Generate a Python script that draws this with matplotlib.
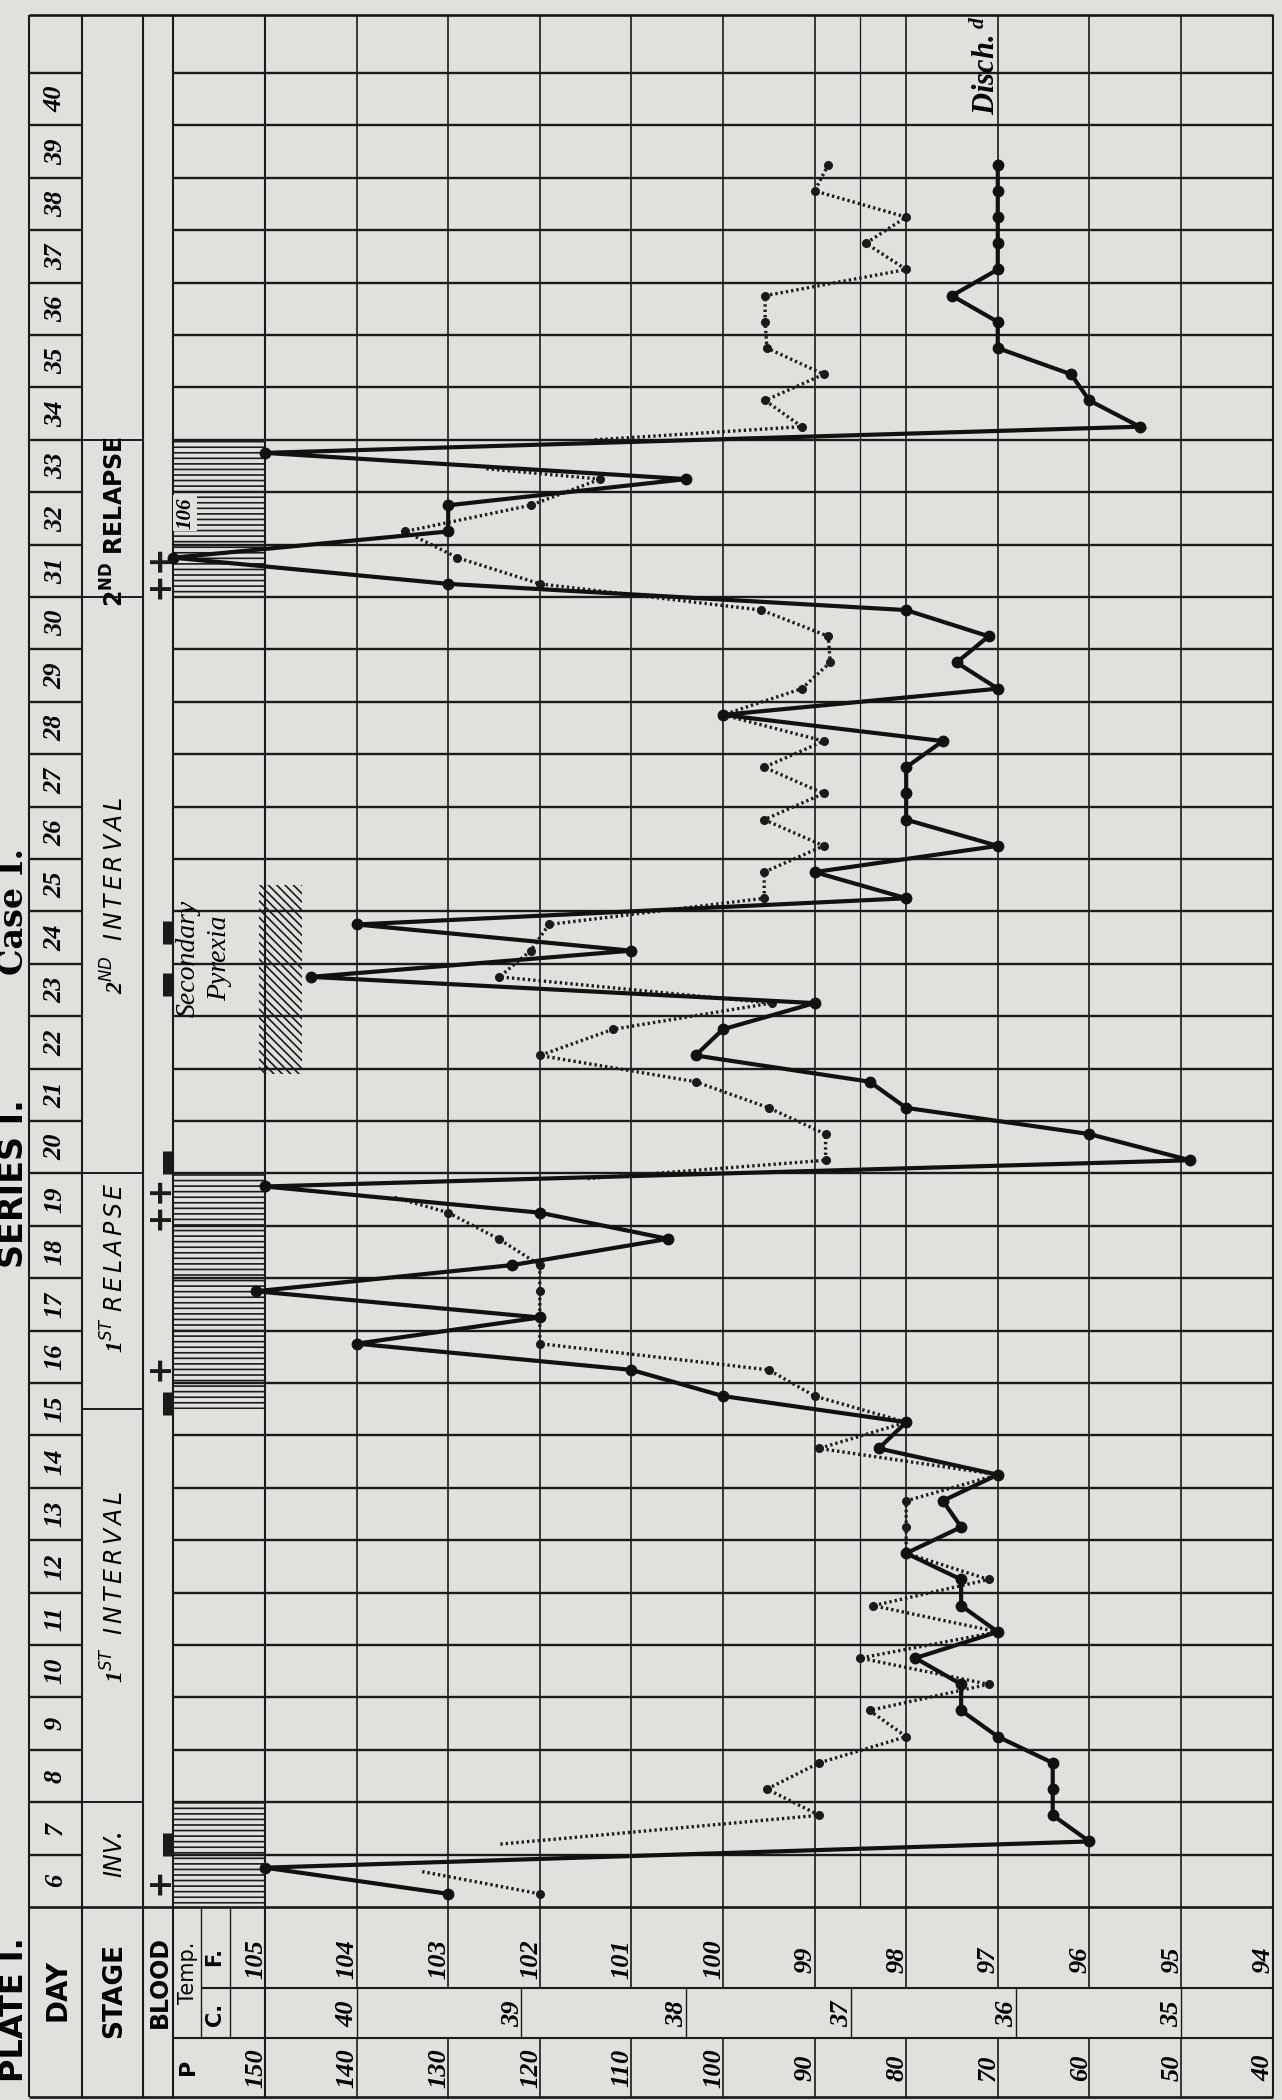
import numpy as np
import matplotlib.pyplot as plt
from matplotlib.patches import Rectangle

plt.rcParams['font.family'] = ['DejaVu Sans']
plt.rcParams['mathtext.fontset'] = 'custom'
plt.rcParams['mathtext.it'] = 'DejaVu Sans:italic'
plt.rcParams['mathtext.sf'] = 'DejaVu Sans:bold'
plt.rcParams['mathtext.rm'] = 'Liberation Serif:italic:bold'
plt.rcParams['hatch.linewidth'] = 1.2

INK = '#1a1a1a'
PAPER = '#e0e0dc'

# ---- values (chart is printed on its side) ----
days = list(range(6, 41))
reading_times = np.arange(6.25, 39.3, 0.5)      # morning / evening readings

temp_f = [103.0, 105.0, 96.0, 96.4, 96.4, 96.4, 97.0, 97.4, 97.4, 97.9,
          97.0, 97.4, 97.4, 98.0, 97.4, 97.6, 97.0, 98.3, 98.0, 100.0,
          101.0, 104.0, 102.0, 105.1, 102.3, 100.6, 102.0, 105.0, 94.9, 96.0,
          98.0, 98.4, 100.3, 100.0, 99.0, 104.5, 101.0, 104.0, 98.0, 99.0,
          97.0, 98.0, 98.0, 98.0, 97.6, 100.0, 97.0, 97.45, 97.1, 98.0,
          103.0, 106.0, 103.0, 103.0, 100.4, 105.0, 95.45, 96.0, 96.2, 97.0,
          97.0, 97.5, 97.0, 97.0, 97.0, 97.0, 97.0]

pulse = [120, np.nan, np.nan, 89.5, 95.2, 89.5, 80, 84, 71, 85,
         70, 83.6, 71, 80, 80, 80, 70, 89.5, 80, 90,
         95, 120, 120, 120, 120, 124.5, 130, np.nan, 88.8, 88.8,
         95, 103, 120, 112, 94.7, 124.4, 121, 119, 95.5, 95.5,
         89, 95.5, 89, 95.5, 89, 100, 91.4, 88.3, 88.5, 95.8,
         120, 129, 134.7, 121, 113.4, np.nan, 91.4, 95.4, 89, 95.2,
         95.4, 95.4, 80, 84.4, 80, 90, 88.5]

# dotted pulse strokes that run off towards unplotted (off-scale) readings
pulse_stubs = [((6.25, 120), (6.68, 133)),
               ((7.2, 124.3), (7.75, 89.5)),
               ((19.25, 130), (19.55, 136)),
               ((19.9, 114.8), (20.25, 88.8)),
               ((33.25, 113.4), (33.45, 126)),
               ((34.0, 114), (34.25, 91.4))]

fahrenheit_ticks = [105, 104, 103, 102, 101, 100, 99, 98, 97, 96, 95, 94]
celsius_ticks = [40, 39, 38, 37, 36, 35]
pulse_ticks = [150, 140, 130, 120, 110, 100, 90, 80, 70, 60, 50, 40]
normal_temp = 98.5

stage_names = [r"$\mathit{INV.}$",
               r"$\mathit{1^{ST}\ \ I\,N\,T\,E\,R\,V\,A\,L}$",
               r"$\mathit{1^{ST}\ R\,E\,L\,A\,P\,S\,E}$",
               r"$\mathit{2^{ND}\ \ I\,N\,T\,E\,R\,V\,A\,L}$",
               r"$\mathsf{2^{ND}\ RELAPSE}$"]
stage_bounds = [6.0, 8.0, 15.5, 20.0, 31.0, 34.0]
stage_label_days = [7.0, 12.1, 18.2, 25.3, 32.45]

pyrexia_bands = [(6.0, 8.0), (15.5, 20.0), (31.0, 34.0)]
secondary_pyrexia = (21.9, 25.5)

blood_times = [6.5, 7.2, 15.6, 16.3, 19.45, 20.2, 23.6, 24.6, 31.5]
blood_signs = ['+', '-', '-', '+', '++', '-', '-', '-', '++']

# ---- layout of the printed form (x in deg F, y in days) ----
X_LEFT, X_RIGHT = 107.893, 93.897
Y_BOTTOM, Y_TOP = 2.316, 42.393
TABLE_LEFT, DAY_STAGE, STAGE_BLOOD, BLOOD_EDGE = 107.58, 107.0, 106.33, 106.0
TEMP_SPLIT, CF_SPLIT, TABLE_RIGHT = 105.7, 105.38, 94.0
TABLE_TOP, HEAD_TOP, FC_LINE, CP_LINE, TABLE_BOTTOM = 42.1, 6.0, 4.45, 3.5, 2.37


def pulse_x(p):
    # pulse scale printed alongside: 150 on the 105 line, 10 beats per degree
    return 90 + np.asarray(p, dtype=float) / 10


fig = plt.figure(figsize=(12.82, 21.0), dpi=100, facecolor=PAPER)
ax = fig.add_axes([0, 0, 1, 1])
ax.set_facecolor(PAPER)
ax.set_xlim(X_LEFT, X_RIGHT)
ax.set_ylim(Y_BOTTOM, Y_TOP)
ax.axis('off')

# grid of the form
row_lines = np.arange(6, 42)
ax.hlines(row_lines[1:], TABLE_LEFT, DAY_STAGE, color=INK, lw=1.7, zorder=1)
ax.hlines(row_lines[1:], BLOOD_EDGE, TABLE_RIGHT, color=INK, lw=1.7, zorder=1)
ax.hlines([HEAD_TOP, TABLE_TOP, TABLE_BOTTOM], TABLE_LEFT, TABLE_RIGHT,
          color=INK, lw=1.9, zorder=1)
ax.hlines(FC_LINE, TEMP_SPLIT, TABLE_RIGHT, color=INK, lw=1.5, zorder=1)
ax.hlines(CP_LINE, BLOOD_EDGE, TABLE_RIGHT, color=INK, lw=1.5, zorder=1)
ax.hlines(stage_bounds[1:], DAY_STAGE, STAGE_BLOOD, color=INK, lw=1.4, zorder=1)

ax.vlines([TABLE_LEFT, DAY_STAGE, STAGE_BLOOD, BLOOD_EDGE, 105, TABLE_RIGHT],
          TABLE_BOTTOM, TABLE_TOP, color=INK, lw=1.5, zorder=1)
ax.vlines(fahrenheit_ticks[1:-1], FC_LINE, TABLE_TOP, color=INK, lw=1.2, zorder=1)
ax.vlines(fahrenheit_ticks[1:-1], TABLE_BOTTOM, CP_LINE, color=INK, lw=1.2, zorder=1)
ax.vlines(normal_temp, HEAD_TOP, TABLE_TOP, color=INK, lw=0.9, zorder=1)
celsius_as_f = [c * 1.8 + 32 for c in celsius_ticks]
ax.vlines(celsius_as_f, CP_LINE, FC_LINE, color=INK, lw=1.0, zorder=1)
ax.vlines([TEMP_SPLIT, CF_SPLIT], CP_LINE, HEAD_TOP, color=INK, lw=1.0, zorder=1)

# hatched pyrexia columns (above 105)
for lo, hi in pyrexia_bands:
    ax.add_patch(Rectangle((BLOOD_EDGE, lo), 105 - BLOOD_EDGE, hi - lo, fill=False,
                           hatch='---', edgecolor=INK, lw=0, zorder=2))
ax.add_patch(Rectangle((105.07, secondary_pyrexia[0]), -0.47,
                       secondary_pyrexia[1] - secondary_pyrexia[0], fill=False,
                       hatch='\\\\\\\\', edgecolor=INK, lw=0, zorder=2))

# header texts
rot = dict(rotation=90, rotation_mode='anchor')
ax.text(107.27, 4.42, 'DAY', fontsize=20, fontweight='bold', ha='center', va='center', **rot)
ax.text(106.65, 4.40, 'STAGE', fontsize=19, fontweight='bold', ha='center', va='center', **rot)
ax.text(106.15, 4.57, 'BLOOD', fontsize=17, fontweight='bold', ha='center', va='center', **rot)
ax.text(105.84, 4.75, 'Temp.', fontsize=15, ha='center', va='center', **rot)
ax.text(105.55, 5.05, 'F.', fontsize=15, fontweight='bold', ha='center', va='center', **rot)
ax.text(105.55, 3.95, 'C.', fontsize=15, fontweight='bold', ha='center', va='center', **rot)
ax.text(105.84, 2.95, 'P', fontsize=16, fontweight='bold', ha='center', va='center', **rot)

num_font = dict(family='Liberation Serif', style='italic', fontweight='bold', fontsize=19)
for f in fahrenheit_ticks:
    ax.text(f + 0.03, 5.0, str(f), ha='center', va='baseline', **rot, **num_font)
for c, fx in zip(celsius_ticks, celsius_as_f):
    ax.text(fx + 0.03, 3.97, str(c), ha='center', va='baseline', **rot, **num_font)
for p in pulse_ticks:
    ax.text(pulse_x(p) + 0.03, 2.93, str(p), ha='center', va='baseline', **rot, **num_font)

for d in days:
    ax.text(107.29, d + 0.5, str(d), family='Liberation Serif', style='italic',
            fontweight='bold', fontsize=19, ha='center', va='center', **rot)

for name, pos in zip(stage_names, stage_label_days):
    ax.text(106.64, pos, name, fontsize=17, ha='center', va='center', **rot)

# blood: spirillum present (+) / absent (-)
for t, s in zip(blood_times, blood_signs):
    if s == '-':
        ax.plot([106.07, 106.07], [t - 0.22, t + 0.22], color=INK, lw=6.5,
                solid_capstyle='butt', zorder=4)
    else:
        ax.text(106.16, t, s, fontsize=24, fontweight='bold', ha='center',
                va='center', color=INK, zorder=4, **rot)

# annotations
serif_it = dict(family='Liberation Serif', style='italic')
ax.text(105.84, 24.1, 'Secondary', fontsize=20, ha='center', va='center', **serif_it, **rot)
ax.text(105.49, 24.1, 'Pyrexia', fontsize=20, ha='center', va='center', **serif_it, **rot)
ax.text(105.87, 32.6, '106', fontsize=15, fontweight='bold', ha='center', va='center',
        zorder=3, bbox=dict(boxstyle='square,pad=0.1', fc=PAPER, ec='none'),
        **serif_it, **rot)
ax.text(97.03, 40.2, r'$\mathrm{Disch.^{d}}$', fontsize=22, ha='left', va='baseline', **rot)

ax.text(107.64, 4.05, 'PLATE I.', fontsize=23, fontweight='bold', ha='center',
        va='baseline', **rot)
ax.text(107.64, 19.8, 'SERIES I.', fontsize=24, fontweight='bold', ha='center',
        va='baseline', **rot)
ax.text(107.64, 25.0, 'Case I.', fontsize=24, fontweight='bold', family='DejaVu Serif',
        ha='center', va='baseline', **rot)

# pulse (dotted) and temperature (solid)
dots = (0, (0.7, 0.9))
for (t0, p0), (t1, p1) in pulse_stubs:
    ax.plot(pulse_x([p0, p1]), [t0, t1], color=INK, lw=2.4, linestyle=dots, zorder=4)
ax.plot(pulse_x(pulse), reading_times, color=INK, lw=2.4, linestyle=dots,
        marker='o', ms=5.5, zorder=4)
ax.plot(temp_f, reading_times, color='#111111', lw=3.0, marker='o', ms=7.5,
        solid_joinstyle='miter', zorder=5)

fig.savefig('out.png', dpi=100, facecolor=PAPER)
